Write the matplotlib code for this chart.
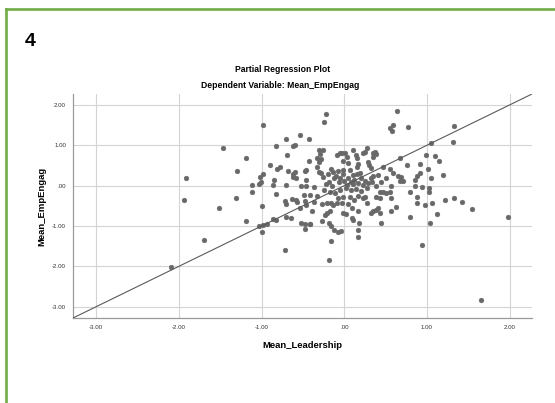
import matplotlib
matplotlib.use("Agg")
import matplotlib.pyplot as plt
from matplotlib.lines import Line2D

plt.rcParams['font.family'] = ['Liberation Sans', 'DejaVu Sans']

# Partial regression residuals
leadership = [
    -2.10, -1.69, -1.94, -1.91, -1.47, -1.52, -1.30, -1.31, -1.19, -1.19,
    -0.98, -1.11, -1.11, -1.03, -1.01, -1.02, -0.98, -1.00, -1.03, -0.98,
    -0.94, -0.99, -0.90, -0.85, -0.86, -0.83, -0.83, -0.81, -0.78, -0.86,
    -0.83, -0.71, -0.69, -0.68, -0.62, -0.59, -0.62, -0.58, -0.71, -0.72,
    -0.71, -0.63, -0.58, -0.57, -0.70, -0.64, -0.54, -0.62, -0.59, -0.43,
    -0.43, -0.48, -0.46, -0.46, -0.52, -0.46, -0.49, -0.42, -0.48, -0.46,
    -0.54, -0.52, -0.47, -0.42, -0.47, -0.72, -0.22, -0.25, -0.31, -0.26,
    -0.29, -0.33, -0.28, -0.30, -0.09, -0.05, -0.33, -0.31, -0.28, -0.16,
    -0.13, -0.07, -0.26, -0.05, -0.36, -0.22, -0.19, -0.15, -0.33, -0.17,
    -0.11, -0.36, -0.27, -0.21, -0.16, -0.13, -0.09, -0.39, -0.17, -0.21,
    -0.23, -0.27, -0.18, -0.16, -0.41, -0.12, -0.07, -0.04, -0.16, -0.19,
    0.64, 0.59, 0.55, 0.58, 0.77, 1.05, -0.03, 0.01, 0.10, 0.27,
    0.25, 0.23, 0.35, 0.38, 0.14, 0.03, 0.15, 0.35, 0.68, 0.99,
    -0.02, 0.05, 0.17, 0.15, 0.29, 0.30, 0.32, 0.47, 0.55, 0.76,
    0.92, 1.01, -0.01, 0.07, 0.19, 0.11, 0.35, 0.41, 0.59, 0.65,
    0.69, 0.88, 0.92, 1.05, 1.33, 1.32, 1.10, 1.14, 1.19, 0.85,
    0.79, 1.03, 1.02, 0.88, 0.88, 0.98, 1.06, 1.22, 1.33, 1.42,
    1.55, 1.98, 1.12, 1.04, 0.80, 0.63, 0.56, 0.45, 0.17, 0.17,
    0.18, 0.94, 1.65, 0.03, 0.11, 0.17, 0.23, 0.29, 0.33, 0.57,
    0.67, 0.71, 0.86, 0.94, -0.01, 0.07, 0.17, 0.23, 0.25, 0.39,
    0.43, 0.47, 0.51, 0.55, 0.57, 0.43, -0.03, 0.05, -0.01, 0.02,
    0.09, 0.09, 0.11, 0.17, 0.27, 0.32, 0.35, 0.38, 0.41, 0.43,
    -0.10, -0.02, 0.05, 0.12, 0.08, -0.06, 0.00, 0.15, 0.20, 0.25,
    -0.12, 0.02, 0.08, 0.14, 0.20, -0.05, 0.27, 0.32, -0.08, 0.12,
    0.38, 0.45, 0.50, -0.20, -0.24, 0.37,
]
emp_engag = [
    -2.01, -1.35, -0.35, 0.18, 0.94, -0.55, 0.36, -0.31, 0.68, -0.88,
    1.49, 0.02, -0.15, 0.04, 0.08, 0.22, 0.29, -0.50, -1.00, -0.98,
    -0.95, -1.16, 0.51, 0.14, 0.02, -0.21, 0.99, 0.41, 0.45, -0.83,
    -0.85, 1.16, 0.75, 0.36, 0.29, 0.35, 0.22, 0.18, 0.02, -0.37,
    -0.46, -0.34, -0.35, -0.40, -0.77, -0.80, 1.25, 0.99, 1.00, 1.15,
    0.60, 0.36, 0.39, 0.14, -0.01, -0.01, -0.23, -0.23, -0.37, -0.48,
    -0.56, -0.92, -0.96, -0.95, -1.08, -1.60, 1.78, 1.58, 0.88, 0.88,
    0.79, 0.69, 0.67, 0.59, 0.76, 0.82, 0.45, 0.35, 0.31, 0.41,
    0.35, 0.37, 0.22, 0.19, -0.04, 0.04, 0.10, -0.02, -0.26, -0.15,
    -0.19, -0.40, -0.45, -0.42, -0.44, -0.48, -0.44, -0.64, -0.64, -0.69,
    -0.73, -0.87, -0.92, -0.99, -0.95, -1.10, -1.14, -1.12, -1.37, -1.84,
    1.85, 1.51, 1.44, 1.36, 1.46, 1.05, 0.82, 0.80, 0.89, 0.93,
    0.84, 0.80, 0.82, 0.79, 0.77, 0.70, 0.68, 0.70, 0.68, 0.75,
    0.60, 0.55, 0.54, 0.47, 0.59, 0.51, 0.43, 0.47, 0.41, 0.51,
    0.53, 0.42, 0.39, 0.39, 0.31, 0.27, 0.24, 0.27, 0.31, 0.24,
    0.22, 0.24, 0.31, 0.18, 1.47, 1.08, 0.73, 0.60, 0.26, 0.14,
    -0.15, -0.07, -0.15, -0.29, -0.44, -0.48, -0.44, -0.35, -0.31, -0.41,
    -0.57, -0.78, -0.70, -0.93, -0.77, -0.52, -0.62, -0.93, -1.10, -1.28,
    -0.92, -1.47, -2.83, 0.02, 0.04, 0.06, 0.02, 0.06, 0.10, -0.02,
    0.12, 0.12, -0.02, -0.04, -0.27, -0.29, -0.26, -0.31, -0.29, -0.27,
    -0.15, -0.17, -0.19, -0.15, -0.31, -0.31, -0.44, -0.45, -0.69, -0.70,
    -0.56, -0.81, -0.85, -0.64, -0.44, -0.69, -0.64, -0.60, -0.56, -0.69,
    0.25, 0.28, 0.20, 0.15, 0.10, 0.08, 0.12, 0.30, 0.18, 0.12,
    0.18, -0.05, -0.12, -0.08, -0.14, -0.10, -0.05, 0.20, -0.30, -0.35,
    0.00, 0.08, 0.20, 0.28, -0.10, 0.84,
]

# fit line
slope = 1.0
intercept = 0.0

ticks = [-3, -2, -1, 0, 1, 2]
tick_labels = ['-3.00', '-2.00', '-1.00', '.00', '1.00', '2.00']
lim = (-3.28, 2.27)

fig = plt.figure(figsize=(5.55, 4.03), dpi=100)
ax = fig.add_axes([0.1315, 0.2109, 0.827, 0.5558])

ax.set_xlim(lim)
ax.set_ylim(lim)
ax.set_xticks(ticks)
ax.set_yticks(ticks)
ax.set_xticklabels(tick_labels)
ax.set_yticklabels(tick_labels)
ax.grid(True, color='#d4d4d4', linewidth=0.8)
ax.set_axisbelow(True)
ax.tick_params(length=0, labelsize=4.4, labelcolor='#333333', pad=5)

for s in ['top', 'right']:
    ax.spines[s].set_visible(False)
for s in ['left', 'bottom']:
    ax.spines[s].set_color('#9a9a9a')
    ax.spines[s].set_linewidth(0.9)

ax.scatter(leadership, emp_engag, s=12, color='#686868', edgecolors='#686868',
           linewidths=0.3, zorder=3)

ax.plot(list(lim), [slope * v + intercept for v in lim], color='#5a5a5a',
        linewidth=0.8, zorder=4)

ax.set_xlabel('Mean_Leadership', fontsize=6.8, fontweight='bold', labelpad=8)
ax.set_ylabel('Mean_EmpEngag', fontsize=6.8, fontweight='bold', labelpad=4)

fig.text(0.51, 1 - 69 / 403, 'Partial Regression Plot', fontsize=6.2,
         fontweight='bold', ha='center', va='center')
fig.text(0.505, 1 - 86 / 403, 'Dependent Variable: Mean_EmpEngag', fontsize=6.2,
         fontweight='bold', ha='center', va='center')
fig.text(25 / 555, 1 - 42 / 403, '4', fontsize=14, fontweight='bold',
         ha='left', va='center')

# green frame
green = '#70ad47'
fig.add_artist(Line2D([6.4 / 555, 6.4 / 555], [0, 1 - 9 / 403], color=green,
                      linewidth=1.9, transform=fig.transFigure))
fig.add_artist(Line2D([6.4 / 555, 1], [1 - 9 / 403, 1 - 9 / 403], color=green,
                      linewidth=1.9, transform=fig.transFigure))

fig.savefig('out.png', dpi=100)
